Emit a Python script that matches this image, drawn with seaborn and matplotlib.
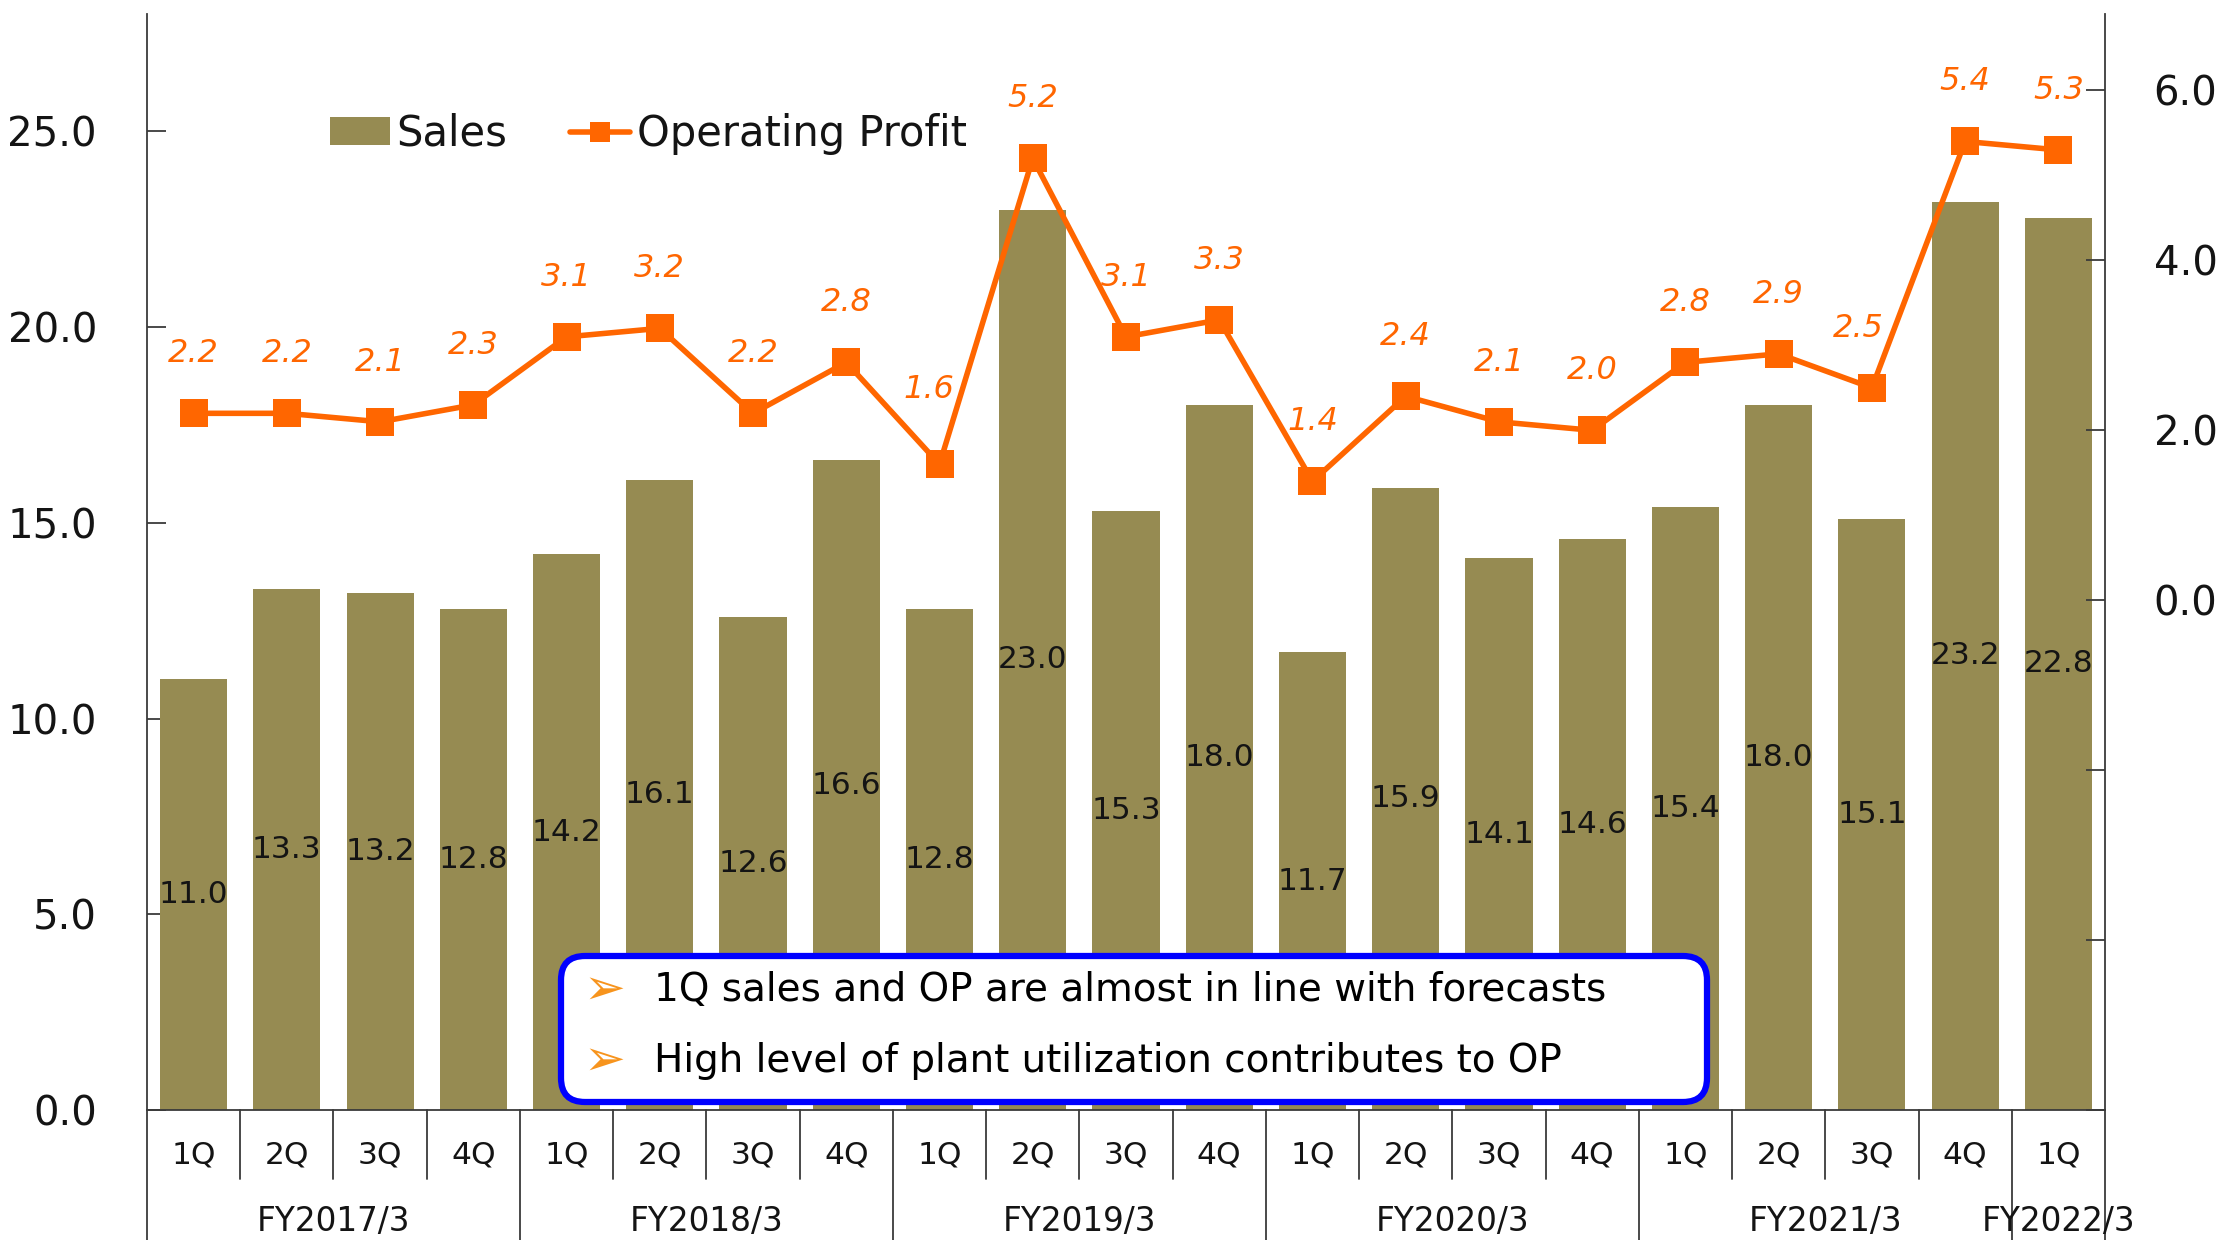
import numpy as np
import pandas as pd
import matplotlib
matplotlib.use("Agg")
import matplotlib.pyplot as plt
import matplotlib.transforms as mtransforms
from matplotlib.patches import Patch, FancyBboxPatch
from matplotlib.lines import Line2D
import seaborn as sns

# ---- data ----
fiscal_years = ["FY2017/3", "FY2018/3", "FY2019/3", "FY2020/3", "FY2021/3", "FY2022/3"]
quarters_per_year = [4, 4, 4, 4, 4, 1]
quarter_labels = ["1Q", "2Q", "3Q", "4Q"] * 5 + ["1Q"]
sales = [11.0, 13.3, 13.2, 12.8, 14.2, 16.1, 12.6, 16.6, 12.8, 23.0, 15.3,
         18.0, 11.7, 15.9, 14.1, 14.6, 15.4, 18.0, 15.1, 23.2, 22.8]
operating_profit = [2.2, 2.2, 2.1, 2.3, 3.1, 3.2, 2.2, 2.8, 1.6, 5.2, 3.1,
                    3.3, 1.4, 2.4, 2.1, 2.0, 2.8, 2.9, 2.5, 5.4, 5.3]
left_ticks = [0, 5, 10, 15, 20, 25]
right_ticks = [-6, -4, -2, 0, 2, 4, 6]
notes = ["1Q sales and OP are almost in line with forecasts",
         "High level of plant utilization contributes to OP"]

BAR = "#968B52"
ORANGE = "#FF6600"
TXT = "#141414"
AXC = "#3a3a3a"

sns.set_style("white")
plt.rcParams["font.family"] = ["DejaVu Sans"]

W_PX, H_PX = 2232, 1240
fig = plt.figure(figsize=(W_PX / 100, H_PX / 100), dpi=100)
x0, x1, ytop, ybot = 147, 2105, 14, 1110
ax = fig.add_axes([x0 / W_PX, 1 - ybot / H_PX, (x1 - x0) / W_PX, (ybot - ytop) / H_PX])

fy_col = []
for fy, nq in zip(fiscal_years, quarters_per_year):
    fy_col += [fy] * nq
df = pd.DataFrame({"period": [f"{f} {q}" for f, q in zip(fy_col, quarter_labels)],
                   "sales": sales, "op": operating_profit})
n = len(df)

sns.barplot(data=df, x="period", y="sales", color=BAR, saturation=1, width=0.72,
            ax=ax, edgecolor="none", zorder=1)
ax.set_xlim(-0.5, n - 0.5)
ax.set_ylim(0, 28)
ax.set_xlabel("")
ax.set_ylabel("")

for i, v in enumerate(sales):
    ax.text(i, v / 2, f"{v:.1f}", ha="center", va="center", fontsize=22.5, color=TXT, zorder=3)

ax.set_yticks(left_ticks)
ax.set_yticklabels([f"{t:.1f}" for t in left_ticks])
ax.tick_params(axis="y", direction="in", length=14, width=1.3, color=AXC,
               labelsize=29, pad=36, labelcolor=TXT, left=True)
ax.set_xticks(range(n))
ax.set_xticklabels(quarter_labels)
ax.tick_params(axis="x", length=0, labelsize=22.5, pad=22, labelcolor=TXT)

for s in ["top", "right"]:
    ax.spines[s].set_visible(False)
for s in ["left", "bottom"]:
    ax.spines[s].set_color(AXC)
    ax.spines[s].set_linewidth(1.3)

# line on secondary axis
ax2 = ax.twinx()
sns.lineplot(x=np.arange(n), y=operating_profit, ax=ax2, color=ORANGE, linewidth=4,
             marker="s", markersize=20, markeredgewidth=0, legend=False, zorder=4)
ax2.set_ylim(-6, 6.9)
ax2.set_yticks(right_ticks)
ax2.set_yticklabels([f"{t:.1f}" if t >= 0 else "" for t in right_ticks])
ax2.tick_params(axis="y", direction="in", length=14, width=1.3, color=AXC,
                labelsize=29, pad=35, labelcolor=TXT, right=True)
for s in ["top", "left", "bottom"]:
    ax2.spines[s].set_visible(False)
ax2.spines["right"].set_color(AXC)
ax2.spines["right"].set_linewidth(1.3)
ax2.set_xlim(-0.5, n - 0.5)

# label offsets (points) for a few labels that sit aside the line
label_shift = {8: (-8, 54), 18: (-10, 43)}
for i, v in enumerate(operating_profit):
    dx, dy = label_shift.get(i, (0, 43))
    ax2.annotate(f"{v:.1f}", (i, v), xytext=(dx, dy), textcoords="offset points",
                 ha="center", va="center", color=ORANGE, fontstyle="italic", fontsize=23)

# category table below the axis
blend = mtransforms.blended_transform_factory(ax.transData, ax.transAxes)
starts = np.cumsum([0] + quarters_per_year[:-1])
group_edges = set()
for s0, nq in zip(starts, quarters_per_year):
    group_edges.add(s0 - 0.5)
    group_edges.add(s0 + nq - 0.5)
for e in np.arange(-0.5, n, 1.0):
    bottom = -0.125 if e in group_edges else -0.063
    ax.plot([e, e], [0, bottom], transform=blend, clip_on=False, color=AXC, lw=1.3)
for fy, s0, nq in zip(fiscal_years, starts, quarters_per_year):
    ax.text(s0 + (nq - 1) / 2, -0.1013, fy, transform=blend, ha="center", va="center",
            fontsize=23.5, color=TXT)

# legend
handles = [Patch(facecolor=BAR, edgecolor="none", label="Sales"),
           Line2D([], [], color=ORANGE, lw=4, marker="s", markersize=14,
                  markeredgewidth=0, label="Operating Profit")]
leg = fig.legend(handles=handles, loc="center left",
                 bbox_to_anchor=(330 / W_PX, 1 - 134 / H_PX), bbox_transform=fig.transFigure,
                 ncol=2, frameon=False, fontsize=30, borderpad=0, borderaxespad=0,
                 handlelength=1.45, handleheight=0.65, handletextpad=0.15, columnspacing=1.5)
for t in leg.get_texts():
    t.set_color(TXT)

# annotation box overlay (pixel coordinates)
ov = fig.add_axes([0, 0, 1, 1], zorder=10)
ov.set_xlim(0, W_PX)
ov.set_ylim(0, H_PX)
ov.axis("off")
ov.patch.set_alpha(0)
bx0, bx1, by0, by1 = 561, 1707, 956, 1102
ov.add_patch(FancyBboxPatch((bx0, H_PX - by1), bx1 - bx0, by1 - by0,
                            boxstyle="round,pad=0,rounding_size=24",
                            linewidth=4.5, edgecolor="#0000FF", facecolor="white"))
for yy, note in zip([990, 1061], notes):
    ov.text(604, H_PX - yy, "\u27a2", color="#F7941D", fontsize=36, ha="center", va="center")
    ov.text(654, H_PX - yy, note, color="black", fontsize=28, ha="left", va="center")

fig.savefig("out.png", dpi=100, facecolor="white")
